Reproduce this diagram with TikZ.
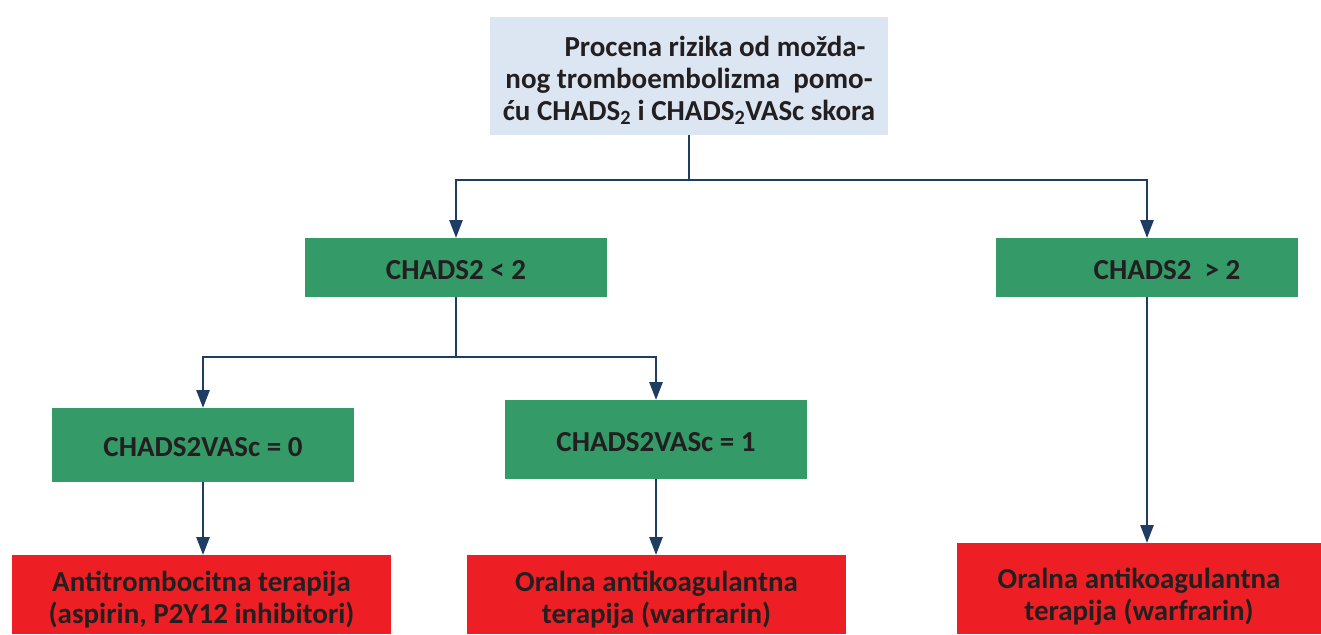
\documentclass[tikz,border=0pt]{standalone}
\usepackage{fontspec}
\setmainfont{Carlito}
\usetikzlibrary{arrows.meta}
\definecolor{topblue}{HTML}{DCE6F2}
\definecolor{boxgreen}{HTML}{349A68}
\definecolor{boxred}{HTML}{ED1F24}
\definecolor{arrowblue}{HTML}{1F3D63}
\definecolor{txt}{HTML}{231F20}
\newcommand{\pushdown}[1]{\rule{0pt}{\dimexpr 21pt+#1\relax}}
\begin{document}
\begin{tikzpicture}[x=1pt,y=-1pt,
  box/.style={inner sep=0pt, outer sep=0pt, text=txt, font=\fontsize{29}{32}\selectfont\bfseries, align=center},
  topbox/.style={box, fill=topblue, minimum width=398pt, minimum height=118pt},
  greenbox/.style={box, fill=boxgreen, minimum width=302pt},
  redbox/.style={box, fill=boxred, minimum width=379pt},
  arr/.style={draw=arrowblue, line width=2.7pt, -{Triangle[length=18pt,width=13pt]}},
  ln/.style={draw=arrowblue, line width=2.7pt}]
\useasboundingbox (0,0) rectangle (1321,634);
\node[topbox] (top) at (689,76) {\pushdown{8pt}\hspace*{52pt}Procena rizika od možda-\\nog tromboembolizma\ \ pomo-\\ću CHADS\textsubscript{2} i CHADS\textsubscript{2}VASc skora};
\node[greenbox, minimum height=59pt] (b1) at (456,267.5) {\pushdown{3pt}CHADS2 < 2};
\node[greenbox, minimum height=59pt] (b2) at (1147,267.5) {\pushdown{3pt}\hspace*{40pt}CHADS2\ \ > 2};
\node[greenbox, minimum height=74pt] (c1) at (203,445) {\pushdown{3pt}CHADS2VASc = 0};
\node[greenbox, minimum height=79pt] (c2) at (656,439.5) {\pushdown{3pt}CHADS2VASc = 1};
\node[redbox, minimum height=79pt] (d1) at (201.5,594.5) {\pushdown{10pt}Antitrombocitna terapija\\(aspirin, P2Y12 inhibitori)};
\node[redbox, minimum height=79pt] (d2) at (656.5,594.5) {\pushdown{10pt}Oralna antikoagulantna\\terapija (warfrarin)};
\node[redbox, minimum width=364pt, minimum height=91pt] (d3) at (1139,588.5) {\pushdown{16pt}Oralna antikoagulantna\\terapija (warfrarin)};
\coordinate (j1) at (689,180);
\coordinate (j2) at (456,357);
\draw[ln] (top.south) -- (j1);
\draw[arr] (j1) -| (b1.north);
\draw[arr] (j1) -| (b2.north);
\draw[ln] (b1.south) -- (j2);
\draw[arr] (j2) -| (c1.north);
\draw[arr] (j2) -| (c2.north);
\draw[arr] (c1.south) -- (c1.south |- d1.north);
\draw[arr] (c2.south) -- (c2.south |- d2.north);
\draw[arr] (b2.south) -- (b2.south |- d3.north);
\end{tikzpicture}
\end{document}
